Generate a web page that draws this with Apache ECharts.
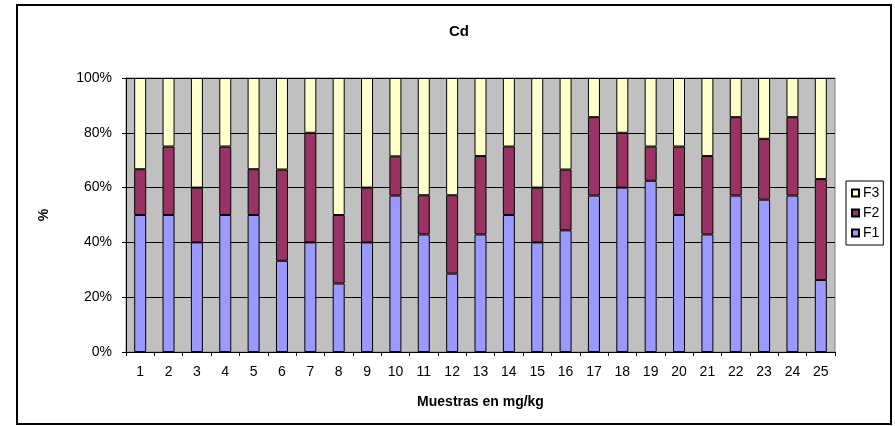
<!DOCTYPE html>
<html>
<head>
<meta charset="utf-8">
<style>
  html, body { margin: 0; padding: 0; background: #fff; }
  #chart { width: 895px; height: 426px; }
</style>
<script src="https://cdn.jsdelivr.net/npm/echarts@6/dist/echarts.min.js"></script>
</head>
<body>
<div id="chart"></div>
<script>
// Sample numbers along the x axis
const samples = ['1','2','3','4','5','6','7','8','9','10','11','12','13','14','15','16','17','18','19','20','21','22','23','24','25'];

// Share of each fraction per sample (%)
const f1 = [50, 50, 40, 50, 50, 33.3, 40, 25, 40, 57.1, 42.9, 28.6, 42.9, 50, 40, 44.4, 57.1, 60, 62.5, 50, 42.9, 57.1, 55.6, 57.1, 26.3];
const f2 = [16.7, 25, 20, 25, 16.7, 33.3, 40, 25, 20, 14.3, 14.3, 28.6, 28.6, 25, 20, 22.2, 28.6, 20, 12.5, 25, 28.6, 28.6, 22.2, 28.6, 36.8];
const f3 = [33.3, 25, 40, 25, 33.3, 33.4, 20, 50, 40, 28.6, 42.8, 42.8, 28.5, 25, 40, 33.4, 14.3, 20, 25, 25, 28.5, 14.3, 22.2, 14.3, 36.9];

const fontFamily = "'Liberation Sans', Arial, sans-serif";

const chart = echarts.init(document.getElementById('chart'), null, { renderer: 'canvas' });

function bar(name, data, color) {
  return {
    name: name,
    type: 'bar',
    stack: 'total',
    data: data,
    barWidth: 12,
    itemStyle: { color: color, borderColor: '#000', borderWidth: 1 },
    emphasis: { disabled: true }
  };
}

chart.setOption({
  animation: false,
  textStyle: { fontFamily: fontFamily, color: '#000' },
  title: {
    text: 'Cd',
    left: 454,
    top: 19,
    textAlign: 'center',
    textStyle: { fontFamily: fontFamily, fontSize: 15, fontWeight: 'bold', color: '#000' }
  },
  legend: {
    orient: 'vertical',
    left: 846,
    top: 181,
    data: ['F3', 'F2', 'F1'],
    icon: 'rect',
    itemWidth: 7,
    itemHeight: 7,
    itemGap: 6,
    padding: [5, 4, 5, 5],
    borderColor: '#000',
    borderWidth: 1,
    backgroundColor: '#fff',
    textStyle: { fontFamily: fontFamily, fontSize: 14, lineHeight: 14, color: '#000', padding: [0, 0, 0, -1] }
  },
  grid: {
    left: 126,
    right: 60,
    top: 78,
    bottom: 74,
    show: true,
    backgroundColor: '#C0C0C0',
    borderColor: '#808080',
    borderWidth: 1
  },
  xAxis: {
    type: 'category',
    data: samples,
    name: 'Muestras en mg/kg',
    nameLocation: 'middle',
    nameGap: 43,
    nameTextStyle: { fontFamily: fontFamily, fontSize: 14, fontWeight: 'bold', color: '#000' },
    axisLine: { lineStyle: { color: '#000', width: 1 } },
    axisTick: { show: true, length: 4, lineStyle: { color: '#000' } },
    axisLabel: { fontFamily: fontFamily, fontSize: 14, color: '#000', margin: 13, interval: 0 }
  },
  yAxis: {
    type: 'value',
    min: 0,
    max: 100,
    interval: 20,
    name: '%',
    nameLocation: 'middle',
    nameGap: 75,
    nameRotate: 90,
    nameTextStyle: { fontFamily: fontFamily, fontSize: 14, fontWeight: 'bold', color: '#000' },
    axisLine: { show: true, lineStyle: { color: '#000', width: 1 } },
    axisTick: { show: true, length: 4, lineStyle: { color: '#000' } },
    axisLabel: { fontFamily: fontFamily, fontSize: 14, color: '#000', margin: 14, formatter: '{value}%' },
    splitLine: { show: true, lineStyle: { color: '#000', width: 1 } }
  },
  series: [
    bar('F1', f1, '#9999FF'),
    bar('F2', f2, '#993366'),
    bar('F3', f3, '#FFFFCC')
  ],
  graphic: [{
    type: 'rect',
    silent: true,
    z: 100,
    shape: { x: 17, y: 5, width: 874, height: 419 },
    style: { fill: null, stroke: '#000', lineWidth: 2 }
  }]
});
</script>
</body>
</html>
